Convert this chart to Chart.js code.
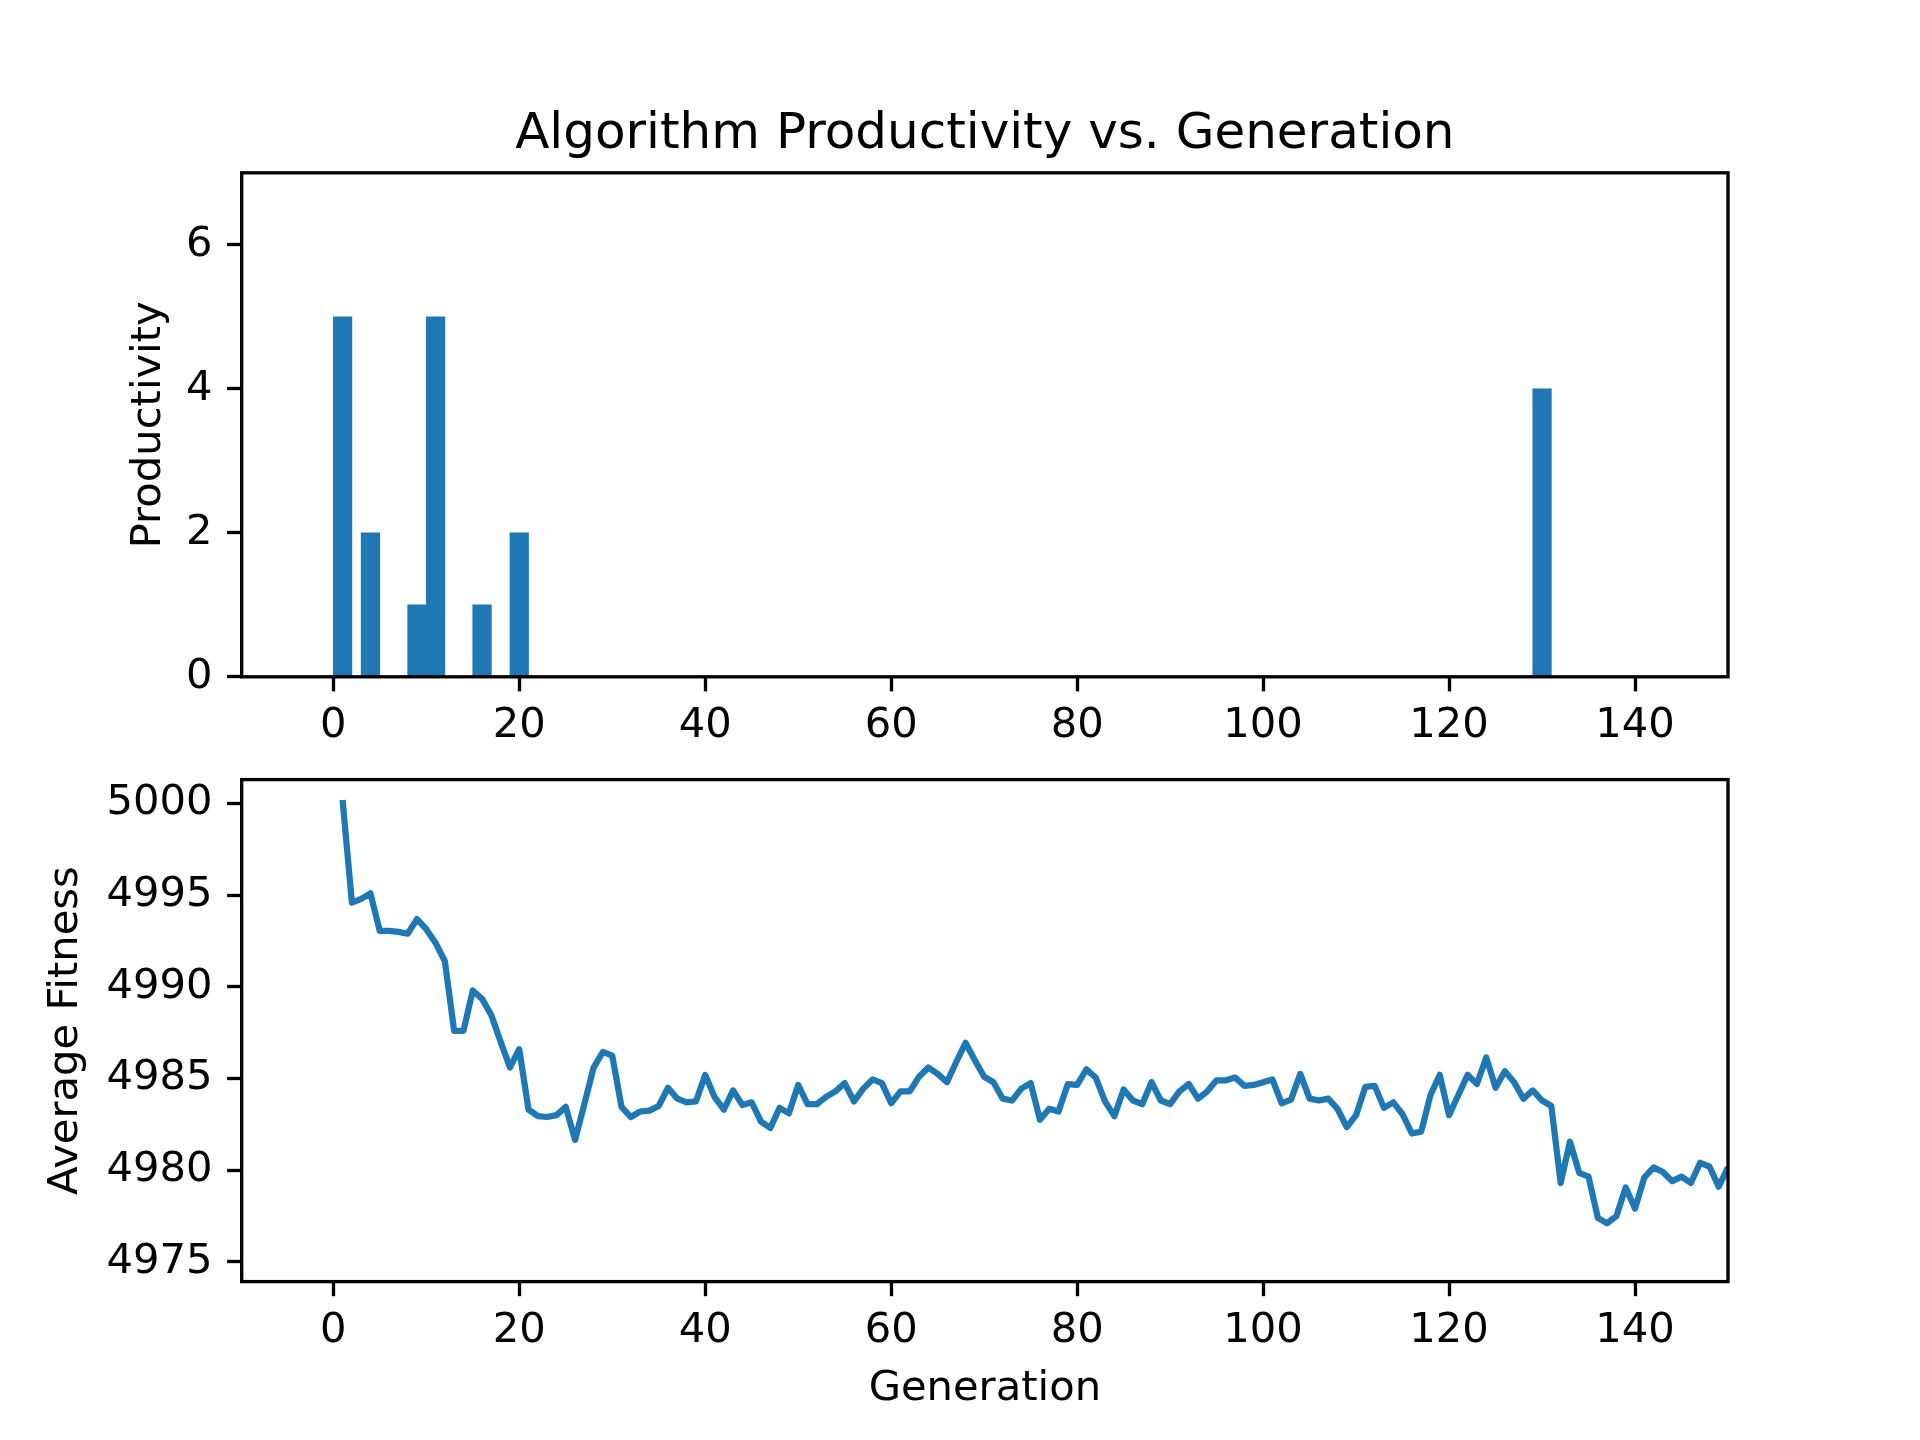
<!DOCTYPE html>
<html>
<head>
<meta charset="utf-8">
<script src="https://cdn.jsdelivr.net/npm/chart.js@4.4.1/dist/chart.umd.min.js"></script>
<style>
  html, body { margin:0; padding:0; background:#fff; width:1920px; height:1440px; overflow:hidden; }
  canvas { position:absolute; left:0; }
  #top { top:0; }
  #bottom { top:740px; }
</style>
</head>
<body>
<canvas id="top" width="1920" height="780"></canvas>
<canvas id="bottom" width="1920" height="700"></canvas>
<script>
// ---- Data ----
const chartTitle = 'Algorithm Productivity vs. Generation';
const productiveGenerations = [1, 4, 9, 11, 16, 20, 130];
const productivity = [5, 2, 1, 5, 1, 2, 4];
const firstGeneration = 1;
const averageFitness = [
  5000.2, 4994.6, 4994.8, 4995.1, 4993.05, 4993.05, 4993.0, 4992.9, 4993.7, 4993.15,
  4992.4, 4991.4, 4987.6, 4987.6, 4989.8, 4989.35, 4988.45, 4987.0, 4985.6, 4986.6,
  4983.3, 4982.95, 4982.9, 4983.0, 4983.45, 4981.65, 4983.6, 4985.6, 4986.45, 4986.25,
  4983.45, 4982.9, 4983.2, 4983.25, 4983.5, 4984.5, 4983.9, 4983.7, 4983.75, 4985.2,
  4984.0, 4983.3, 4984.35, 4983.55, 4983.7, 4982.65, 4982.3, 4983.4, 4983.1, 4984.65,
  4983.6, 4983.6, 4984.0, 4984.3, 4984.75, 4983.75, 4984.45, 4984.95, 4984.75, 4983.65,
  4984.3, 4984.3, 4985.1, 4985.6, 4985.25, 4984.8, 4985.9, 4986.95, 4986.0, 4985.1,
  4984.8, 4983.9, 4983.8, 4984.45, 4984.75, 4982.75, 4983.35, 4983.2, 4984.7, 4984.65,
  4985.5, 4985.05, 4983.75, 4982.95, 4984.4, 4983.8, 4983.6, 4984.8, 4983.8, 4983.6,
  4984.3, 4984.7, 4983.9, 4984.3, 4984.9, 4984.9, 4985.05, 4984.6, 4984.65, 4984.8,
  4984.95, 4983.65, 4983.85, 4985.25, 4983.9, 4983.8, 4983.9, 4983.35, 4982.35, 4983.0,
  4984.55, 4984.6, 4983.4, 4983.7, 4983.05, 4982.0, 4982.1, 4984.1, 4985.2, 4983.0,
  4984.1, 4985.2, 4984.7, 4986.15, 4984.5, 4985.4, 4984.8, 4983.9, 4984.35, 4983.8,
  4983.5, 4979.3, 4981.55, 4979.85, 4979.65, 4977.4, 4977.1, 4977.5, 4979.05, 4977.9,
  4979.6, 4980.15, 4979.9, 4979.4, 4979.65, 4979.3, 4980.4, 4980.2, 4979.1, 4980.15
];
const xTicks = [0, 20, 40, 60, 80, 100, 120, 140];
const productivityTicks = [0, 2, 4, 6];
const fitnessTicks = [4975, 4980, 4985, 4990, 4995, 5000];

// ---- Styling ----
const BLUE = '#1f77b4';
const FONT = 'DejaVu Sans';
const PT = 300 / 72;
const TICK_LEN = 3.5 * PT;
const LINE_W = 0.8 * PT;
Chart.defaults.font.family = FONT;
Chart.defaults.font.size = 10 * PT;
Chart.defaults.color = '#000';

const spines = {
  id: 'spines',
  afterLayout(chart) {
    // centre the title over the axes box, as matplotlib does
    if (chart.titleBlock) {
      chart.titleBlock.left = chart.chartArea.left;
      chart.titleBlock.right = chart.chartArea.right;
      chart.titleBlock.width = chart.chartArea.right - chart.chartArea.left;
    }
  },
  afterDatasetsDraw(chart) {
    const a = chart.chartArea, ctx = chart.ctx;
    ctx.save();
    ctx.strokeStyle = '#000';
    ctx.lineWidth = LINE_W;
    ctx.lineJoin = 'miter';
    ctx.strokeRect(a.left, a.top, a.right - a.left, a.bottom - a.top);
    ctx.restore();
  }
};

function keepTicks(list) {
  return (scale) => { scale.ticks = list.map(v => ({ value: v })); };
}

function xScale(height, titleOpts) {
  return {
    type: 'linear', min: -9.85, max: 150, offset: false,
    afterBuildTicks: keepTicks(xTicks),
    afterFit: (s) => { s.height = height; },
    grid: { display: true, drawOnChartArea: false, drawTicks: true, tickLength: TICK_LEN, tickWidth: LINE_W, tickColor: '#000', offset: false },
    border: { display: false },
    ticks: { padding: TICK_LEN - 5, maxRotation: 0, autoSkip: false, callback: v => String(v) },
    title: titleOpts || { display: false }
  };
}

function yScale(min, max, ticks, label, titlePad) {
  return {
    type: 'linear', min: min, max: max,
    afterBuildTicks: keepTicks(ticks),
    afterFit: (s) => { s.width = 241.7; },
    grid: { display: true, drawOnChartArea: false, drawTicks: true, tickLength: TICK_LEN, tickWidth: LINE_W, tickColor: '#000' },
    border: { display: false },
    ticks: { padding: TICK_LEN, autoSkip: false, callback: v => String(v) },
    title: { display: true, text: label, padding: { top: titlePad, bottom: 0 }, font: { size: 10 * PT } }
  };
}

new Chart(document.getElementById('top'), {
  type: 'bar',
  data: {
    datasets: [{
      data: productiveGenerations.map((g, i) => ({ x: g, y: productivity[i] })),
      backgroundColor: BLUE,
      borderWidth: 0,
      barPercentage: 1.0,
      categoryPercentage: 1.0
    }]
  },
  options: {
    responsive: false, animation: false, devicePixelRatio: 1,
    layout: { padding: { left: 0, right: 192, top: 0, bottom: 0 } },
    plugins: {
      legend: { display: false }, tooltip: { enabled: false },
      title: { display: true, text: chartTitle, font: { size: 12 * PT, weight: 'normal' }, padding: { top: 105, bottom: 7.8 }, color: '#000' }
    },
    scales: {
      x: xScale(103.2),
      y: yScale(0, 7, productivityTicks, 'Productivity', 124.5)
    }
  },
  plugins: [spines]
});

new Chart(document.getElementById('bottom'), {
  type: 'line',
  data: {
    datasets: [{
      data: averageFitness.map((v, i) => ({ x: firstGeneration + i, y: v })),
      borderColor: BLUE,
      borderWidth: 1.5 * PT,
      pointRadius: 0,
      tension: 0,
      fill: false,
      borderJoinStyle: 'round',
      borderCapStyle: 'butt'
    }]
  },
  options: {
    responsive: false, animation: false, devicePixelRatio: 1,
    layout: { padding: { left: 0, right: 192, top: 37.6, bottom: 0 } },
    plugins: { legend: { display: false }, tooltip: { enabled: false } },
    scales: {
      x: xScale(158.4, { display: true, text: 'Generation', padding: { top: 0, bottom: 26 }, font: { size: 10 * PT } }),
      y: yScale(4973.92, 5001.31, fitnessTicks, 'Average Fitness', 41.5)
    }
  },
  plugins: [spines]
});
</script>
</body>
</html>
